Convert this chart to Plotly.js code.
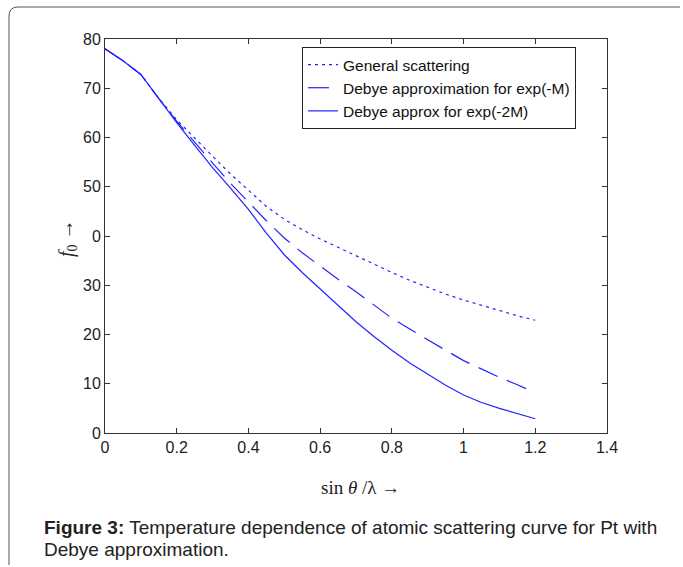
<!DOCTYPE html>
<html>
<head>
<meta charset="utf-8">
<script src="https://cdn.plot.ly/plotly-3.0.1.min.js"></script>
<style>html,body{margin:0;padding:0;background:#fff;}#chart{width:683px;height:567px;}</style>
</head>
<body>
<div id="chart"></div>
<script>
// sin(theta)/lambda values
const sinThetaOverLambda = [0, 0.05, 0.1, 0.15, 0.2, 0.25, 0.3, 0.35, 0.4, 0.45, 0.5, 0.55, 0.6, 0.65, 0.7, 0.75, 0.8, 0.85, 0.9, 0.95, 1.0, 1.05, 1.1, 1.15, 1.2];
// General scattering (dotted)
const generalScattering = [78, 75.6, 72.8, 68.0, 63.6, 59.8, 56.2, 52.6, 49.3, 46.0, 43.4, 41.3, 39.4, 37.7, 35.9, 34.2, 32.6, 31.0, 29.6, 28.2, 27.0, 25.9, 24.8, 23.8, 22.9];
// Debye approximation for exp(-M) (dashed)
const debyeExpM = [78, 75.6, 72.8, 67.9, 63.3, 59.0, 54.8, 50.7, 46.8, 43.1, 39.6, 36.6, 33.9, 31.2, 28.7, 26.0, 23.3, 21.1, 18.9, 16.8, 14.7, 13.0, 11.3, 9.8, 8.2];
// Debye approx for exp(-2M) (solid)
const debyeExp2M = [78, 75.6, 72.8, 67.8, 63.0, 58.4, 53.9, 49.7, 45.4, 40.6, 36.2, 32.6, 29.3, 25.9, 22.6, 19.6, 16.8, 14.2, 11.9, 9.7, 7.7, 6.2, 5.0, 3.9, 2.9];
const seriesNames = ["General scattering", "Debye approximation for exp(-M)", "Debye approx for exp(-2M)"];
const xTickVals = [0, 0.2, 0.4, 0.6, 0.8, 1, 1.2, 1.4];
const xTickText = ["0", "0.2", "0.4", "0.6", "0.8", "1", "1.2", "1.4"];
const yTickVals = [0, 10, 20, 30, 40, 50, 60, 70, 80];
const yTickText = ["0", "10", "20", "30", "0", "50", "60", "70", "80"];
const xTitleText = "sin <i>θ</i> /λ →";
const yTitleText = "<i>f</i><sub>0</sub> →";
const captionLine1 = "<b>Figure 3:</b> Temperature dependence of atomic scattering curve for Pt with";
const captionLine2 = "Debye approximation.";

const blue = "rgb(35,35,255)";
const traces = [
  {x: sinThetaOverLambda, y: generalScattering, name: seriesNames[0], mode: "lines",
   line: {color: blue, width: 1.2, dash: "3px,4px"}},
  {x: sinThetaOverLambda, y: debyeExpM, name: seriesNames[1], mode: "lines",
   line: {color: blue, width: 1.2, dash: "21px,10px"}},
  {x: sinThetaOverLambda, y: debyeExp2M, name: seriesNames[2], mode: "lines",
   line: {color: blue, width: 1.2}}
];

const L = 105, R = 607, T = 39, B = 433;
const W = R - L, H = B - T;
const px = v => (v - L) / W;
const py = v => (B - v) / H;

const rx = 9 / W, ry = 9 / H;
const bx0 = px(9), by0 = py(7), bx1 = px(680), by1 = py(565);
const borderPath = `M ${bx1},${by0} L ${bx0 + rx},${by0} Q ${bx0},${by0} ${bx0},${by0 - ry} L ${bx0},${by1}`;

const axisCommon = {
  showgrid: false, zeroline: false, showline: true, linecolor: "#333", linewidth: 1,
  ticks: "inside", ticklen: 5, tickcolor: "#333", mirror: "ticks",
  tickfont: {family: "Liberation Sans, Arial, sans-serif", size: 16, color: "#222"}
};

const layout = {
  width: 683, height: 567,
  margin: {l: L, r: 683 - R, t: T, b: 567 - B, pad: 0},
  paper_bgcolor: "#fff", plot_bgcolor: "#fff",
  showlegend: true,
  xaxis: Object.assign({}, axisCommon, {range: [0, 1.4], tickvals: xTickVals, ticktext: xTickText, fixedrange: true}),
  yaxis: Object.assign({}, axisCommon, {range: [0, 80], tickvals: yTickVals, ticktext: yTickText, fixedrange: true}),
  legend: {
    x: px(302), y: py(47), xanchor: "left", yanchor: "top",
    bgcolor: "#fff", bordercolor: "#222", borderwidth: 1,
    font: {family: "Liberation Sans, Arial, sans-serif", size: 15.5, color: "#111"},
    tracegroupgap: 0, itemwidth: 30
  },
  shapes: [
    {type: "path", xref: "paper", yref: "paper", path: borderPath, line: {color: "#555", width: 1}}
  ],
  annotations: [
    {xref: "paper", yref: "paper", x: px(360), y: py(487), text: xTitleText, showarrow: false,
     xanchor: "center", yanchor: "middle", font: {family: "Liberation Serif, DejaVu Serif, serif", size: 19, color: "#222"}},
    {xref: "paper", yref: "paper", x: px(67), y: py(238), text: yTitleText, showarrow: false, textangle: -90,
     xanchor: "center", yanchor: "middle", font: {family: "Liberation Serif, DejaVu Serif, serif", size: 20, color: "#222"}},
    {xref: "paper", yref: "paper", x: px(42), y: py(527), text: captionLine1, showarrow: false, align: "left",
     xanchor: "left", yanchor: "middle", font: {family: "Liberation Sans, Arial, sans-serif", size: 19, color: "#222"}},
    {xref: "paper", yref: "paper", x: px(42), y: py(549), text: captionLine2, showarrow: false, align: "left",
     xanchor: "left", yanchor: "middle", font: {family: "Liberation Sans, Arial, sans-serif", size: 19, color: "#222"}}
  ]
};

Plotly.newPlot("chart", traces, layout, {staticPlot: true, displayModeBar: false});
</script>
</body>
</html>
